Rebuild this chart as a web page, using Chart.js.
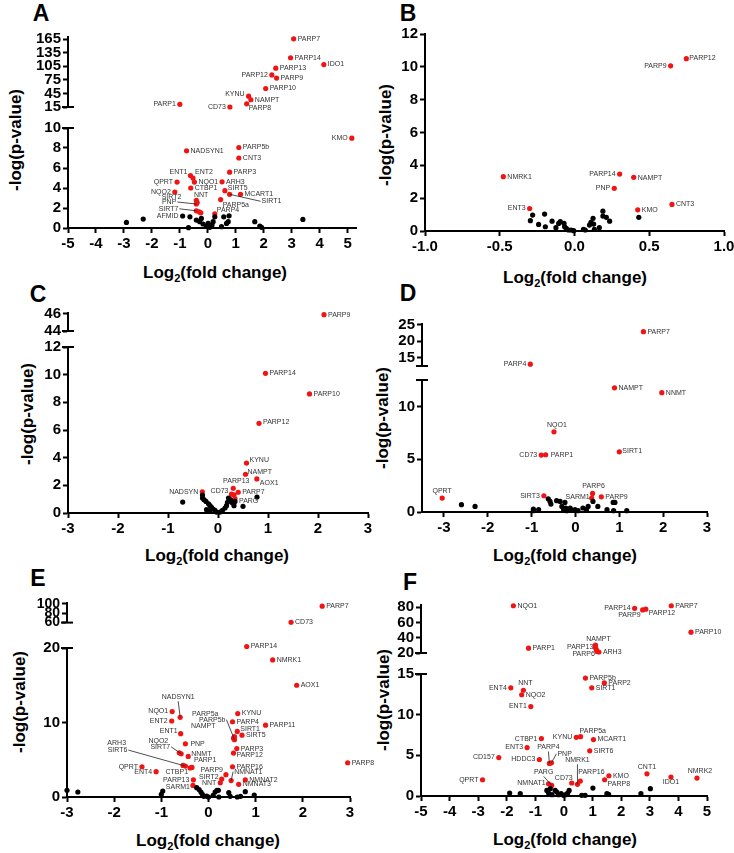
<!DOCTYPE html>
<html>
<head>
<meta charset="utf-8">
<script src="https://cdn.jsdelivr.net/npm/chart.js@4.4.1/dist/chart.umd.min.js"></script>
<style>
  body { margin:0; width:734px; height:853px; position:relative; overflow:hidden; background:#fff;
         font-family: Arial, "Liberation Sans", sans-serif; }
  canvas { position:absolute; }
  .t { position:absolute; font-weight:bold; color:#000; white-space:nowrap; line-height:1; transform:translate(-50%,-50%); }
  .letter { font-size:23px; }
  .xt { font-size:17px; }
  .xt span { font-size:11px; position:relative; top:4px; }
  .yt { font-size:17px; transform:translate(-50%,-50%) rotate(-90deg); }
</style>
</head>
<body>
<div class="t letter" style="left:41px;top:13px">A</div>
<div class="t letter" style="left:408px;top:13px">B</div>
<div class="t letter" style="left:38px;top:294px">C</div>
<div class="t letter" style="left:408px;top:293px">D</div>
<div class="t letter" style="left:38px;top:578px">E</div>
<div class="t letter" style="left:410px;top:582px">F</div>

<div class="t yt" style="left:15px;top:140px">-log(p-value)</div>
<div class="t yt" style="left:385px;top:135px">-log(p-value)</div>
<div class="t yt" style="left:27px;top:414px">-log(p-value)</div>
<div class="t yt" style="left:382px;top:418px">-log(p-value)</div>
<div class="t yt" style="left:19px;top:702px">-log(p-value)</div>
<div class="t yt" style="left:383px;top:700px">-log(p-value)</div>

<div class="t xt" style="left:215px;top:272px">Log<span>2</span>(fold change)</div>
<div class="t xt" style="left:575px;top:277px">Log<span>2</span>(fold change)</div>
<div class="t xt" style="left:217px;top:555px">Log<span>2</span>(fold change)</div>
<div class="t xt" style="left:565px;top:555px">Log<span>2</span>(fold change)</div>
<div class="t xt" style="left:208px;top:840px">Log<span>2</span>(fold change)</div>
<div class="t xt" style="left:565px;top:839px">Log<span>2</span>(fold change)</div>

<script>
// ---------- panel A ----------
const aGenes   = ['PARP7','PARP14','IDO1','PARP13','PARP12','PARP9','PARP10','KYNU','NAMPT','PARP8',
                  'PARP1','CD73','KMO','PARP5b','NADSYN1','CNT3','PARP3','ENT1','ENT2','QPRT',
                  'NQO1','ARH3','CTBP1','SIRT5','NQO2','SIRT1','MCART1','PARP5a','SIRT2','NNT',
                  'PNP','SIRT7','','','PARP4'];
const aLogFC   = [3.07,2.96,4.15,2.43,2.29,2.46,2.07,1.46,1.54,1.39,
                  -1.0,0.79,5.15,1.11,-0.76,1.11,0.78,-0.62,-0.53,-1.1,
                  -0.48,0.51,-0.61,0.61,-1.18,0.78,1.17,0.46,-0.41,-0.38,
                  -0.41,-0.41,-0.31,-0.25,0.25];
const aNegLogP = [166,124,109,101,86,79,56,39,31,22,
                  21,15,8.98,8.05,7.72,7.0,5.58,5.25,5.0,4.59,
                  4.59,4.62,4.0,3.73,3.6,3.37,3.37,2.84,2.77,2.55,
                  2.4,1.72,1.62,1.52,1.42];
const aNsGenes   = ['AFMID'];
const aNsLogFC   = [-0.9,-2.91,-2.31,-0.64,-0.69,-0.41,-0.29,-0.17,-0.05,0.07,0.15,0.19,0.25,0.49,0.57,0.76,0.73,0.67,1.68,1.86,1.92,3.4,-0.23,0.01];
const aNsNegLogP = [1.2,0.56,0.89,1.12,0.03,0.79,0.63,0.4,0.2,0.07,0.3,0.63,1.12,0.13,1.12,1.22,0.63,0.46,0.63,0.2,0.07,0.86,0.96,0.46];
const aXTicks = [-5,-4,-3,-2,-1,0,1,2,3,4,5];
const aYTicksUpper = [15,45,75,105,135,165];
const aYTicksLower = [0,2,4,6,8,10];

// ---------- panel B ----------
const bGenes   = ['PARP12','PARP9','NMRK1','PARP14','NAMPT','PNP','CNT3','ENT3','KMO'];
const bLogFC   = [0.748,0.643,-0.476,0.302,0.396,0.266,0.652,-0.3,0.423];
const bNegLogP = [10.5,10.06,3.31,3.47,3.27,2.6,1.62,1.37,1.29];
const bNsLogFC   = [-0.295,-0.28,-0.2,-0.195,-0.24,-0.15,-0.124,-0.106,-0.095,-0.07,-0.066,-0.055,-0.04,-0.023,-0.006,0.06,0.072,0.1,0.11,0.124,0.128,0.133,0.166,0.19,0.19,0.213,0.235,0.43];
const bNsNegLogP = [0.63,0.97,1.03,0.26,0.4,0.6,0.2,0.46,0.57,0.46,0.26,0.16,0.06,0.06,0.02,0.1,0.06,0.36,0.53,0.77,0.42,0.1,0.2,1.21,0.91,0.83,0.6,0.83];
const bXTicks = [-1,-0.5,0,0.5,1];
const bYTicks = [0,2,4,6,8,10,12];

// ---------- panel C ----------
const cGenes   = ['PARP9','PARP14','PARP10','PARP12','KYNU','NAMPT','AOX1','PARP13','NADSYN','CD73','','PARP7','PARG'];
const cLogFC   = [2.12,0.95,1.83,0.82,0.57,0.55,0.777,0.305,-0.314,0.27,0.32,0.404,0.34];
const cNegLogP = [45.9,10.1,8.61,6.48,3.61,2.8,2.46,1.79,1.53,1.36,1.32,1.5,1.05];
const cNsLogFC   = [-0.706,-0.31,-0.31,-0.28,-0.24,-0.19,-0.16,-0.13,-0.1,-0.06,-0.03,0.04,0.09,0.14,0.17,0.19,0.21,0.25,0.29,0.32,0.34,0.5,0.78,-0.23,-0.17];
const cNsNegLogP = [0.79,1.3,1.08,0.96,0.84,0.67,0.53,0.41,0.29,0.19,0.07,0.07,0.19,0.36,0.53,0.77,1.08,0.96,0.72,0.53,0.84,0.48,1.15,0.24,0.12];
const cXTicks = [-3,-2,-1,0,1,2,3];
const cYTicksUpper = [44,46];
const cYTicksLower = [0,2,4,6,8,10,12];

// ---------- panel D ----------
const dGenes   = ['PARP7','PARP4','NAMPT','NNMT','NQO1','SIRT1','CD73','PARP1','QPRT','SIRT3','PARP6','SARM1','PARP9'];
const dLogFC   = [1.55,-1.03,0.89,1.97,-0.49,1.0,-0.78,-0.68,-3.04,-0.72,0.39,0.37,0.59];
const dNegLogP = [22.9,13.1,11.76,11.3,7.59,5.7,5.39,5.42,1.32,1.54,1.76,1.32,1.44];
const dNsLogFC   = [-2.6,-2.29,-0.96,-0.84,-0.62,-0.58,-0.56,-0.43,-0.35,-0.31,-0.27,-0.24,-0.22,-0.2,-0.12,-0.08,-0.01,0.06,0.17,0.25,0.29,0.4,0.51,0.86,0.9,0.72,0.87,1.17,-0.96];
const dNsNegLogP = [0.69,0.53,0.28,0.22,1.25,1.0,0.75,1.07,1.0,0.53,0.22,0.91,0.38,0.13,0.38,0.16,0.22,0.13,0.38,0.22,0.53,1.0,0.53,0.91,0.91,0.22,0.13,0.13,0.13];
const dXTicks = [-3,-2,-1,0,1,2,3];
const dYTicksUpper = [15,20,25];
const dYTicksLower = [0,5,10];

// ---------- panel E ----------
const eGenes   = ['PARP7','CD73','PARP14','NMRK1','AOX1','NQO1','NADSYN1','ENT2','KYNU','PARP4',
                  'PARP11','SIRT1','SIRT5','PARP5a','PARP5b','NAMPT','ENT1','PNP','NQO2','SIRT7',
                  'NNMT','PARP3','PARP12','ARH3','SIRT6','PARP1','CTBP1','QPRT','ENT4','PARP16',
                  'PARP9','NMNAT1','SIRT2','NNT','NMNAT2','NMNAT3','PARP13','SARM1','PARP8'];
const eLogFC   = [2.41,1.75,0.81,1.36,1.87,-0.77,-0.6,-0.78,0.62,0.51,
                  1.21,0.61,0.71,0.55,0.55,0.53,-0.59,-0.49,-0.62,-0.58,
                  -0.43,0.6,0.53,-0.54,-0.49,-0.35,-0.39,-1.41,-1.11,0.51,
                  0.37,0.48,0.28,0.25,0.78,0.64,-0.32,-0.33,2.95];
const eNegLogP = [95,60.7,20.2,18.4,15.0,11.47,10.7,10.2,11.2,10.1,
                  9.64,8.8,8.3,8.1,7.7,7.9,8.5,7.14,5.94,5.8,
                  5.45,6.5,5.9,4.24,4.15,3.97,3.9,4.06,3.4,4.06,
                  3.0,2.2,2.4,1.9,2.3,1.7,2.3,1.56,4.6];
const eNsLogFC   = [-3.0,-2.77,-1.0,-0.97,-0.25,-0.2,-0.16,-0.13,-0.1,0.0,0.1,0.14,0.18,0.21,0.22,0.43,0.46,0.61,0.68,0.78,0.97,-0.04];
const eNsNegLogP = [0.9,0.67,0.36,0.8,1.25,1.0,0.67,0.36,0.09,0.0,0.22,0.67,0.9,0.9,0.0,0.58,0.09,0.0,0.09,0.71,0.27,0.13];
const eXTicks = [-3,-2,-1,0,1,2,3];
const eYTicksUpper = [60,80,100];
const eYTicksLower = [0,10,20];

// ---------- panel F ----------
const fGenes   = ['NQO1','PARP14','PARP9','PARP12','PARP7','PARP10','PARP1','NAMPT','','PARP13',
                  'PARP6','ARH3','PARP5b','PARP2','SIRT1','ENT4','NNT','NQO2','ENT1','CTBP1',
                  'KYNU','PARP5a','MCART1','ENT3','SIRT6','CD157','HDDC3','PARP4','PNP','NMRK1',
                  'PARP16','KMO','PARP8','CNT1','IDO1','NMRK2','QPRT','PARG','NMNAT1','CD73'];
const fLogFC   = [-1.77,2.47,2.75,2.86,3.75,4.44,-1.24,1.1,1.1,1.13,
                  1.15,1.22,0.75,1.41,0.97,-1.86,-1.42,-1.48,-1.16,-0.79,
                  0.43,0.58,1.03,-1.29,0.9,-2.28,-0.86,-0.51,-0.44,0.47,
                  0.57,1.57,1.42,2.9,3.74,4.65,-2.85,-0.43,-0.54,0.27];
const fNegLogP = [82,78.7,76.6,77.5,82,47.3,26.3,30.5,27.1,24.6,
                  22.1,21.3,14.5,13.9,13.3,13.3,13.0,12.45,11.0,7.06,
                  7.22,7.3,6.94,5.96,5.55,4.73,4.49,4.0,4.08,1.43,
                  1.84,2.49,2.0,2.73,2.33,2.2,2.0,1.3,1.5,1.6];
const fNsLogFC   = [-1.9,-1.53,-0.6,-0.54,-0.48,-0.42,-0.31,-0.25,-0.19,-0.1,-0.02,0.06,0.13,0.18,0.62,0.74,1.01,1.5,1.56,2.69,3.02];
const fNsNegLogP = [0.37,0.29,0.69,0.37,0.9,0.16,0.69,0.49,0.16,0.29,0.08,0.16,0.37,0.69,0.08,0.08,0.98,0.29,0.2,0.29,0.9];
const fXTicks = [-5,-4,-3,-2,-1,0,1,2,3,4,5];
const fYTicksUpper = [20,40,60,80];
const fYTicksLower = [0,5,10,15];

// ---------- label placement: code or [dx, dy, align, leader] ----------
const aPlace = {PARP7:'r',PARP14:'r',IDO1:'r',PARP13:'r',PARP12:'l',PARP9:'r',PARP10:'r',KYNU:[-4,-2,'right'],
  NAMPT:'r',PARP8:[2,4,'left'],PARP1:'l',CD73:'l',KMO:'l',PARP5b:'r',NADSYN1:'r',CNT3:'r',PARP3:'r',
  ENT1:[-3,-3,'right'],ENT2:[2,-6,'left'],QPRT:'l',NQO1:'r',ARH3:'r',CTBP1:'r',SIRT5:[3,-3,'left'],NQO2:'l',
  SIRT1:[32,7,'left',true],MCART1:'r',PARP5a:[2,5,'left'],SIRT2:[-15,-3,'right'],NNT:[4,-7,'center'],
  PNP:[-20,-2,'right',true],SIRT7:[-18,-2,'right',true],PARP4:[2,-4,'left'],AFMID:'l'};
const bPlace = {PARP12:[3,-1,'left'],PARP9:'l',NMRK1:'r',PARP14:'l',NAMPT:[4,1,'left'],PNP:'l',CNT3:'r',ENT3:'l',KMO:'r'};
const cPlace = {PARP9:'r',PARP14:'r',PARP10:'r',PARP12:[4,-1,'left'],KYNU:[3,-3,'left'],NAMPT:[2,-2,'left'],
  AOX1:[3,4,'left'],PARP13:[3,-7,'center'],NADSYN:'l',CD73:[-3,-3,'right'],PARP7:'r',PARG:[4,3,'left']};
const dPlace = {PARP7:'r',PARP4:'l',NAMPT:'r',NNMT:'r',NQO1:[3,-7,'center'],SIRT1:[3,-1,'left'],CD73:'l',
  PARP1:[5,0,'left'],QPRT:[0,-7,'center'],SIRT3:'l',PARP6:[1,-7,'center'],SARM1:[-2,-1,'right'],PARP9:'r'};
const ePlace = {PARP7:'r',CD73:'r',PARP14:'r',NMRK1:'r',AOX1:'r',NQO1:'l',NADSYN1:[-2,-20,'center',true],ENT2:'l',
  KYNU:'r',PARP4:'r',PARP11:'r',SIRT1:[3,-2,'left'],SIRT5:'r',PARP5a:[-16,-23,'right'],PARP5b:[-9,-20,'right',true],
  NAMPT:[-18,-12,'right'],ENT1:[-3,-3,'right'],PNP:[5,0,'left'],NQO2:[-11,-12,'right'],SIRT7:[-11,-7,'right',true],
  NNMT:[3,-2,'left'],PARP3:'r',PARP12:[3,2,'left'],ARH3:[-57,-22,'right'],SIRT6:[-58,-16,'right',true],
  PARP1:[2,-7,'left'],CTBP1:[-2,4,'right'],QPRT:'l',ENT4:'l',PARP16:'r',PARP9:[-3,-5,'right'],
  NMNAT1:[3,-9,'left',true],SIRT2:[-3,-2,'right'],NNT:'l',NMNAT2:'r',NMNAT3:'r',PARP13:'l',SARM1:[-3,2,'right'],PARP8:'r'};
const fPlace = {NQO1:'r',PARP14:'l',PARP9:[-2,5,'right'],PARP12:[3,4,'left'],PARP7:'r',PARP10:'r',PARP1:'r',
  NAMPT:[3,-6,'center'],PARP13:[-3,-2,'right'],PARP6:[-2,3,'right'],ARH3:'r',PARP5b:'r',PARP2:'r',SIRT1:'r',
  ENT4:'l',NNT:[2,-7,'center'],NQO2:'r',ENT1:'l',CTBP1:'l',KYNU:'l',PARP5a:[-1,-6,'left'],MCART1:'r',ENT3:'l',
  SIRT6:'r',CD157:'l',HDDC3:'l',PARP4:[-1,-16,'center',true],PNP:[6,-9,'left',true],NMRK1:[0,-24,'center',true],
  PARP16:[-2,-9,'left'],KMO:'r',PARP8:[3,4,'left'],CNT1:[0,-7,'center'],IDO1:[0,5,'center'],NMRK2:[3,-7,'center'],
  QPRT:'l',PARG:[-8,-13,'center',true],NMNAT1:[-3,-1,'right'],CD73:[1,-5,'right']};

const RED = '#f01414';
const FONT = 'Arial, "Liberation Sans", sans-serif';
const YW = 44, PT = 10, PR = 30, XH = 26, PB = 4;
Chart.defaults.font.family = FONT;

const PLACES = { r:[4,0,'left'], l:[-4,0,'right'], t:[0,-7,'center'], b:[0,7,'center'],
                 tr:[3,-4,'left'], tl:[-3,-4,'right'], br:[3,4,'left'], bl:[-3,4,'right'] };

// gene names next to the dots
const pointLabels = {
  id: 'pointLabels',
  afterDatasetsDraw(chart) {
    const ctx = chart.ctx;
    ctx.save();
    ctx.font = '7px ' + FONT;
    ctx.textBaseline = 'middle';
    chart.data.datasets.forEach((ds, i) => {
      if (!ds.names) return;
      chart.getDatasetMeta(i).data.forEach((el, j) => {
        const name = ds.names[j];
        if (!name) return;
        const pl = ds.place[name];
        const p = Array.isArray(pl) ? pl : PLACES[pl || 'r'];
        const ax = el.x + p[0], ay = el.y + p[1];
        if (p[3]) {
          let sx = ax, sy = ay;
          if (p[2] === 'right') sx = ax + 1;
          else if (p[2] === 'left') sx = ax - 1;
          else sy = ay + (p[1] < 0 ? 4 : -4);
          ctx.strokeStyle = '#222';
          ctx.lineWidth = 0.8;
          ctx.beginPath(); ctx.moveTo(sx, sy); ctx.lineTo(el.x, el.y); ctx.stroke();
        }
        ctx.textAlign = p[2];
        ctx.fillStyle = '#333';
        ctx.fillText(name, ax, ay);
      });
    });
    ctx.restore();
  }
};

// little caps where the y axis is broken
const breakCaps = {
  id: 'breakCaps',
  afterDraw(chart, args, opts) {
    const a = chart.chartArea, ctx = chart.ctx;
    ctx.save();
    ctx.strokeStyle = '#000';
    ctx.lineWidth = 2;
    [['top', opts.top], ['bottom', opts.bottom]].forEach(([k, on]) => {
      if (!on) return;
      ctx.beginPath(); ctx.moveTo(a.left - 6, a[k]); ctx.lineTo(a.left + 6, a[k]); ctx.stroke();
    });
    ctx.restore();
  }
};

const panels = [
  { names:aGenes, x:aLogFC, y:aNegLogP, nsNames:aNsGenes, nsX:aNsLogFC, nsY:aNsNegLogP, place:aPlace,
    xMin:-5, xMax:5.3, xTicks:aXTicks, left:68, right:356,
    segs:[ {min:15, max:170, ticks:aYTicksUpper, top:36, bottom:108},
           {min:0, max:10, ticks:aYTicksLower, top:127, bottom:228} ] },
  { names:bGenes, x:bLogFC, y:bNegLogP, nsX:bNsLogFC, nsY:bNsNegLogP, place:bPlace,
    xMin:-1, xMax:1, xTicks:bXTicks, left:425, right:724, fmt: v => v.toFixed(1),
    segs:[ {min:0, max:12, ticks:bYTicks, top:33, bottom:231} ] },
  { names:cGenes, x:cLogFC, y:cNegLogP, nsX:cNsLogFC, nsY:cNsNegLogP, place:cPlace,
    xMin:-3, xMax:3, xTicks:cXTicks, left:68, right:368,
    segs:[ {min:44, max:46.1, ticks:cYTicksUpper, top:312, bottom:332},
           {min:0, max:12, ticks:cYTicksLower, top:346, bottom:513} ] },
  { names:dGenes, x:dLogFC, y:dNegLogP, nsX:dNsLogFC, nsY:dNsNegLogP, place:dPlace,
    xMin:-3.5, xMax:3, xTicks:dXTicks, left:422, right:707,
    segs:[ {min:12.55, max:25.2, ticks:dYTicksUpper, top:323, bottom:367},
           {min:0, max:12.5, ticks:dYTicksLower, top:379, bottom:512} ] },
  { names:eGenes, x:eLogFC, y:eNegLogP, nsX:eNsLogFC, nsY:eNsNegLogP, place:ePlace,
    xMin:-3, xMax:3, xTicks:eXTicks, left:67, right:350, upperFont:14,
    segs:[ {min:60, max:101, ticks:eYTicksUpper, top:603, bottom:623},
           {min:0, max:20, ticks:eYTicksLower, top:647, bottom:797} ] },
  { names:fGenes, x:fLogFC, y:fNegLogP, nsX:fNsLogFC, nsY:fNsNegLogP, place:fPlace,
    xMin:-5, xMax:5, xTicks:fXTicks, left:421, right:707,
    segs:[ {min:20, max:83, ticks:fYTicksUpper, top:604, bottom:654},
           {min:0, max:15, ticks:fYTicksLower, top:673, bottom:796} ] }
];

function axisStyle(size) {
  return {
    grid: { display: true, drawOnChartArea: false, drawTicks: true, tickLength: 5, tickWidth: 2,
            color: '#000', tickColor: '#000' },
    border: { display: true, width: 2, color: '#000' },
    ticks: { autoSkip: false, maxRotation: 0, color: '#000', padding: 2,
             font: { size: size, weight: 'bold', family: FONT } }
  };
}

panels.forEach(p => {
  const broken = p.segs.length === 2;
  const cut = broken ? (p.segs[0].min + p.segs[1].max) / 2 : Infinity;
  p.segs.forEach((seg, k) => {
    const upper = broken && k === 0;
    const showX = k === p.segs.length - 1;
    const keep = v => upper ? v > cut : v <= cut;

    const red = [], redNames = [];
    p.x.forEach((v, i) => { if (keep(p.y[i])) { red.push({x: v, y: p.y[i]}); redNames.push(p.names[i]); } });
    const ns = [], nsNames = [];
    p.nsX.forEach((v, i) => { if (keep(p.nsY[i])) { ns.push({x: v, y: p.nsY[i]}); nsNames.push((p.nsNames || [])[i]); } });

    const cv = document.createElement('canvas');
    cv.width = p.right - p.left + YW + PR;
    cv.height = seg.bottom - seg.top + PT + (showX ? XH + PB : PT);
    cv.style.left = (p.left - YW) + 'px';
    cv.style.top = (seg.top - PT) + 'px';
    document.body.appendChild(cv);

    const xs = axisStyle(15), ys = axisStyle(upper && p.upperFont ? p.upperFont : 15);
    const xScale = { type: 'linear', min: p.xMin, max: p.xMax, display: showX,
      afterBuildTicks: s => { s.ticks = p.xTicks.map(v => ({value: v})); },
      grid: xs.grid, border: xs.border,
      ticks: Object.assign({}, xs.ticks, { callback: v => p.fmt ? p.fmt(v) : String(v) }) };
    if (showX) xScale.afterFit = s => { s.height = XH; };

    new Chart(cv, {
      type: 'scatter',
      data: { datasets: [
        { data: ns, names: nsNames, place: p.place, backgroundColor: '#000', pointRadius: 2.6, borderWidth: 0, clip: false },
        { data: red, names: redNames, place: p.place, backgroundColor: RED, pointRadius: 2.6, borderWidth: 0, clip: false }
      ] },
      options: {
        responsive: false, animation: false, events: [],
        layout: { padding: { left: 0, right: PR, top: PT, bottom: showX ? PB : PT } },
        plugins: { legend: { display: false }, tooltip: { enabled: false },
                   breakCaps: { top: broken && !upper, bottom: upper } },
        scales: {
          x: xScale,
          y: { type: 'linear', min: seg.min, max: seg.max,
               afterBuildTicks: s => { s.ticks = seg.ticks.map(v => ({value: v})); },
               afterFit: s => { s.width = YW; },
               grid: ys.grid, border: ys.border,
               ticks: Object.assign({}, ys.ticks, { callback: v => String(v) }) }
        }
      },
      plugins: [pointLabels, breakCaps]
    });
  });
});
</script>
</body>
</html>
